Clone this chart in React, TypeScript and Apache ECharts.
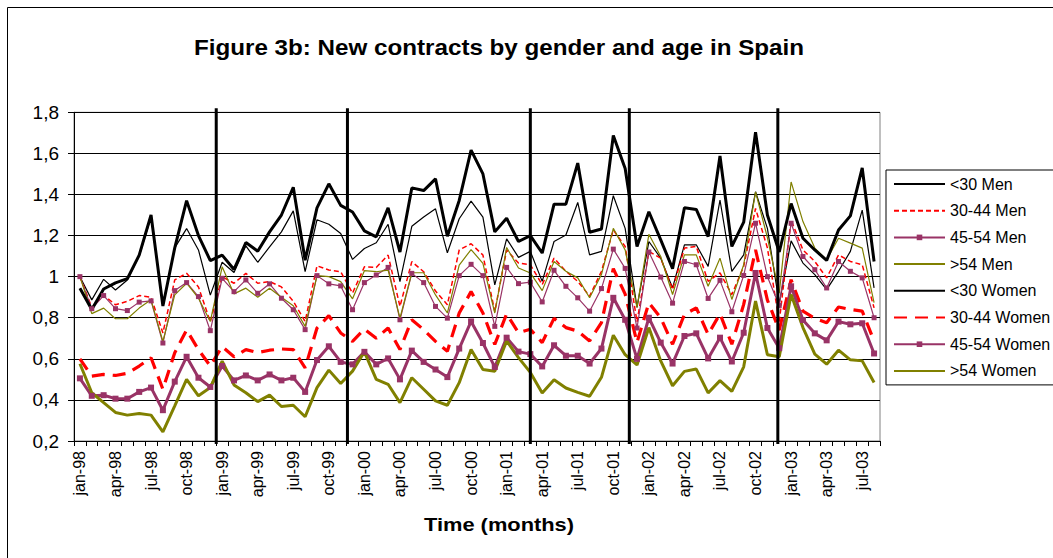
import React, { useEffect, useRef } from "react";
import * as echarts from "echarts";

const monthNames = ["jan", "feb", "mar", "apr", "may", "jun", "jul", "aug", "sep", "oct", "nov", "dec"];
const yearNames = ["98", "99", "00", "01", "02", "03"];
const monthCount = 68;
const categories: string[] = [];
yearNames.forEach((y) => monthNames.forEach((m) => categories.push(`${m}-${y}`)));
categories.length = monthCount;

const yTicks = [0.2, 0.4, 0.6, 0.8, 1, 1.2, 1.4, 1.6, 1.8];

// Black vertical separators (position in month units from the axis start)
const dividerPositions = [12.0, 23.07, 38.5, 46.85, 59.38];

const lt30Men = [1.0, 0.887, 0.987, 0.935, 0.984, 1.10, 1.29, 0.86, 1.14, 1.234, 1.13, 0.91,
  1.07, 1.02, 1.15, 1.07, 1.145, 1.218, 1.32, 1.024, 1.277, 1.255, 1.21, 1.084,
  1.137, 1.165, 1.255, 0.976, 1.245, 1.29, 1.33, 1.116, 1.282, 1.368, 1.29, 0.96,
  1.184, 1.094, 1.123, 0.977, 1.171, 1.203, 1.361, 1.106, 1.123, 1.394, 1.235, 0.85,
  1.171, 1.09, 0.945, 1.155, 1.155, 1.05, 1.373, 1.026, 1.106, 1.413, 1.235, 0.87,
  1.174, 1.066, 1.01, 0.937, 1.026, 1.123, 1.324, 0.945];

const men3044 = [1.0, 0.85, 0.91, 0.863, 0.88, 0.908, 0.90, 0.726, 0.984, 1.016, 0.95, 0.78,
  1.0, 0.968, 1.016, 0.968, 0.976, 0.95, 0.88, 0.782, 1.053, 1.032, 1.024, 0.92,
  1.048, 1.045, 1.105, 0.855, 1.073, 1.024, 0.93, 0.863, 1.13, 1.16, 1.105, 0.83,
  1.13, 1.066, 1.058, 0.961, 1.09, 1.026, 0.977, 0.905, 1.026, 1.227, 1.147, 0.78,
  1.123, 1.09, 0.937, 1.139, 1.147, 0.977, 1.018, 0.913, 1.05, 1.332, 1.14, 0.78,
  1.276, 1.13, 1.074, 0.994, 1.106, 1.074, 1.058, 0.848];

const men4554 = [1.0, 0.844, 0.908, 0.844, 0.835, 0.876, 0.882, 0.677, 0.932, 0.971, 0.903, 0.737,
  0.992, 0.927, 0.984, 0.919, 0.965, 0.895, 0.839, 0.742, 1.005, 0.965, 0.955, 0.839,
  0.971, 1.008, 1.045, 0.79, 1.016, 0.971, 0.855, 0.798, 1.005, 1.06, 1.005, 0.758,
  1.045, 0.966, 0.973, 0.877, 1.031, 0.953, 0.897, 0.832, 0.942, 1.134, 1.04, 0.75,
  1.12, 0.998, 0.871, 1.074, 1.058, 0.894, 0.982, 0.829, 1.006, 1.26, 1.0, 0.86,
  1.26, 1.098, 1.034, 0.945, 1.074, 1.026, 0.994, 0.8];

const gt54Men = [1.0, 0.82, 0.847, 0.795, 0.795, 0.847, 0.887, 0.685, 0.911, 0.968, 0.895, 0.782,
  1.048, 0.916, 0.944, 0.9, 0.944, 0.9, 0.858, 0.758, 1.005, 1.0, 0.976, 0.892,
  1.029, 1.024, 1.032, 0.798, 1.019, 1.019, 0.911, 0.823, 1.056, 1.132, 1.065, 0.823,
  1.142, 1.042, 1.018, 0.932, 1.074, 1.026, 0.994, 0.897, 1.01, 1.235, 1.13, 0.85,
  1.206, 1.098, 0.913, 1.106, 1.106, 0.953, 1.09, 0.889, 1.058, 1.413, 1.19, 0.92,
  1.461, 1.268, 1.139, 1.082, 1.187, 1.163, 1.139, 0.873];

const lt30Women = [0.944, 0.84, 0.94, 0.97, 0.99, 1.105, 1.30, 0.857, 1.14, 1.37, 1.20, 1.078,
  1.105, 1.035, 1.166, 1.124, 1.218, 1.30, 1.435, 1.08, 1.335, 1.452, 1.347, 1.315,
  1.223, 1.194, 1.335, 1.12, 1.432, 1.419, 1.476, 1.197, 1.371, 1.616, 1.5, 1.218,
  1.284, 1.171, 1.2, 1.115, 1.353, 1.353, 1.553, 1.216, 1.232, 1.687, 1.526, 1.147,
  1.316, 1.179, 1.039, 1.335, 1.327, 1.195, 1.587, 1.147, 1.265, 1.703, 1.30, 1.12,
  1.356, 1.187, 1.13, 1.079, 1.227, 1.296, 1.529, 1.074];

const women3044 = [0.60, 0.516, 0.524, 0.519, 0.53, 0.565, 0.605, 0.452, 0.63, 0.74, 0.645, 0.565,
  0.66, 0.61, 0.645, 0.63, 0.642, 0.648, 0.645, 0.556, 0.75, 0.81, 0.726, 0.685,
  0.745, 0.70, 0.75, 0.645, 0.79, 0.742, 0.685, 0.637, 0.823, 0.927, 0.823, 0.67,
  0.819, 0.727, 0.744, 0.679, 0.797, 0.752, 0.735, 0.687, 0.776, 1.039, 0.915, 0.68,
  0.873, 0.8, 0.671, 0.816, 0.848, 0.719, 0.819, 0.671, 0.865, 1.13, 0.886, 0.74,
  0.985, 0.832, 0.797, 0.776, 0.852, 0.84, 0.832, 0.687];

const women4554 = [0.505, 0.42, 0.423, 0.406, 0.406, 0.439, 0.46, 0.35, 0.489, 0.61, 0.508, 0.463,
  0.565, 0.495, 0.519, 0.495, 0.524, 0.495, 0.508, 0.439, 0.594, 0.661, 0.585, 0.573,
  0.634, 0.573, 0.602, 0.5, 0.64, 0.585, 0.548, 0.511, 0.65, 0.782, 0.677, 0.56,
  0.703, 0.635, 0.623, 0.563, 0.666, 0.615, 0.615, 0.577, 0.65, 0.897, 0.79, 0.60,
  0.8, 0.679, 0.577, 0.711, 0.724, 0.602, 0.703, 0.587, 0.727, 1.018, 0.75, 0.652,
  0.953, 0.789, 0.724, 0.69, 0.781, 0.768, 0.773, 0.626];

const gt54Women = [0.576, 0.435, 0.387, 0.339, 0.326, 0.334, 0.326, 0.245, 0.371, 0.5, 0.42, 0.46,
  0.589, 0.473, 0.435, 0.392, 0.423, 0.368, 0.374, 0.318, 0.46, 0.545, 0.48, 0.54,
  0.634, 0.5, 0.476, 0.387, 0.508, 0.452, 0.395, 0.374, 0.484, 0.645, 0.548, 0.54,
  0.687, 0.606, 0.534, 0.434, 0.498, 0.458, 0.437, 0.418, 0.51, 0.715, 0.62, 0.57,
  0.752, 0.59, 0.469, 0.539, 0.55, 0.434, 0.494, 0.442, 0.561, 0.881, 0.62, 0.61,
  0.913, 0.752, 0.623, 0.574, 0.642, 0.595, 0.59, 0.485];

const FONT = "'Liberation Sans', Arial, sans-serif";
const MAGENTA = "#993366";
const OLIVE = "#808000";
const RED = "#ff0000";

function lineSeries(name: string, data: number[], color: string, width: number, dash: any, marker: number) {
  return {
    name,
    type: "line",
    data,
    xAxisIndex: 0,
    yAxisIndex: 0,
    symbol: marker > 0 ? "rect" : "none",
    symbolSize: marker,
    showSymbol: marker > 0,
    itemStyle: { color, borderWidth: 0 },
    lineStyle: { color, width, type: dash },
    emphasis: { disabled: true },
    z: 3,
  };
}

const legendNames = ["<30 Men", "30-44 Men", "45-54 Men", ">54 Men", "<30 Women", "30-44 Women", "45-54 Women", ">54 Women"];
const legendMarked = ["45-54 Men", "45-54 Women"];

export default function App() {
  const ref = useRef<HTMLDivElement>(null);
  useEffect(() => {
    if (!ref.current) return;
    const chart = echarts.init(ref.current, null, { renderer: "svg" });
    chart.setOption({
      animation: false,
      backgroundColor: "#ffffff",
      textStyle: { fontFamily: FONT },
      grid: {
        left: 74,
        right: 173,
        top: 112.3,
        bottom: 117,
        show: true,
        borderColor: "#808080",
        borderWidth: 1,
        containLabel: false,
      },
      graphic: [
        {
          type: "rect",
          shape: { x: 7.5, y: 7.5, width: 2000, height: 2000 },
          style: { fill: "none", stroke: "#000", lineWidth: 1 },
          silent: true,
          z: 0,
        },
        {
          type: "text",
          x: 499,
          y: 47,
          scaleX: 1.1,
          style: {
            text: "Figure 3b: New contracts by gender and age in Spain",
            font: `bold 22px ${FONT}`,
            fill: "#000",
            textAlign: "center",
            textVerticalAlign: "middle",
          },
        },
        {
          type: "text",
          x: 499,
          y: 524,
          scaleX: 1.15,
          style: {
            text: "Time (months)",
            font: `bold 19px ${FONT}`,
            fill: "#000",
            textAlign: "center",
            textVerticalAlign: "middle",
          },
        },
      ],
      legend: {
        orient: "vertical",
        left: 886,
        top: 170,
        padding: [5, 200, 5, 7],
        itemWidth: 51,
        itemHeight: 7,
        itemGap: 8.7,
        borderColor: "#000",
        borderWidth: 1,
        backgroundColor: "#fff",
        textStyle: { fontSize: 16, fontFamily: FONT, color: "#000", lineHeight: 18 },
        data: legendNames.map((n) =>
          legendMarked.includes(n) ? { name: n } : { name: n, itemStyle: { opacity: 0 } }
        ),
      },
      xAxis: [
        {
          type: "category",
          data: categories,
          boundaryGap: true,
          axisLine: { show: true, lineStyle: { color: "#000", width: 1 } },
          axisTick: { show: true, interval: 0, length: 5, lineStyle: { color: "#000" } },
          axisLabel: {
            interval: 2,
            rotate: 90,
            margin: 10,
            fontSize: 16,
            fontFamily: FONT,
            color: "#000",
          },
          splitLine: { show: false },
        },
        {
          type: "value",
          min: 0,
          max: monthCount,
          show: false,
          splitLine: { show: false },
        },
      ],
      yAxis: {
        type: "value",
        min: 0.2,
        max: 1.8,
        interval: 0.2,
        axisLine: { show: true, lineStyle: { color: "#000", width: 1 } },
        axisTick: { show: true, length: 6, lineStyle: { color: "#000" } },
        axisLabel: {
          margin: 15,
          fontSize: 19,
          fontFamily: FONT,
          color: "#000",
          formatter: (v: number) => {
            const r = Math.round(v * 10) / 10;
            return yTicks.includes(r) ? String(r).replace(".", ",") : "";
          },
        },
        splitLine: { show: true, lineStyle: { color: "#000", width: 1 } },
      },
      series: [
        lineSeries("<30 Men", lt30Men, "#000000", 1.2, "solid", 0),
        lineSeries("30-44 Men", men3044, RED, 1.5, [5, 3], 0),
        lineSeries("45-54 Men", men4554, MAGENTA, 1.2, "solid", 5),
        lineSeries(">54 Men", gt54Men, OLIVE, 1.2, "solid", 0),
        lineSeries("<30 Women", lt30Women, "#000000", 3, "solid", 0),
        lineSeries("30-44 Women", women3044, RED, 3.2, [13, 8], 0),
        lineSeries("45-54 Women", women4554, MAGENTA, 3, "solid", 6),
        lineSeries(">54 Women", gt54Women, OLIVE, 3, "solid", 0),
        {
          name: "dividers",
          type: "custom",
          xAxisIndex: 1,
          yAxisIndex: 0,
          clip: false,
          silent: true,
          z: 5,
          data: dividerPositions.map((p) => [p, 1.8]),
          encode: { x: 0, y: 1 },
          renderItem: (_params: any, api: any) => {
            const top = api.coord([api.value(0), 1.8]);
            const bot = api.coord([api.value(0), 0.2]);
            return {
              type: "line",
              shape: { x1: top[0], y1: top[1] - 4, x2: top[0], y2: bot[1] + 3 },
              style: { stroke: "#000", lineWidth: 3 },
            };
          },
        },
      ],
    });
    return () => chart.dispose();
  }, []);
  return (
    <div
      ref={ref}
      style={{ position: "absolute", left: 0, top: 0, width: 1053, height: 558, background: "#fff" }}
    />
  );
}
